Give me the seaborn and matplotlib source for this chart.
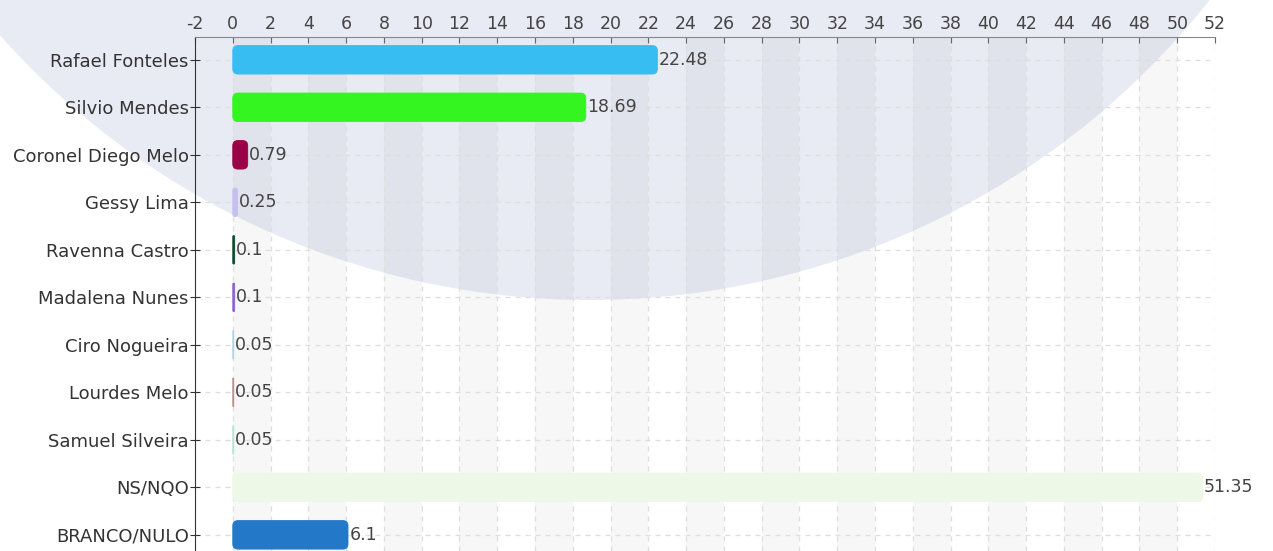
import matplotlib
matplotlib.use('Agg')
import matplotlib.pyplot as plt
import seaborn as sns
import pandas as pd
from matplotlib.patches import FancyBboxPatch, Ellipse

# data
names = ['Rafael Fonteles', 'Silvio Mendes', 'Coronel Diego Melo', 'Gessy Lima',
         'Ravenna Castro', 'Madalena Nunes', 'Ciro Nogueira', 'Lourdes Melo',
         'Samuel Silveira', 'NS/NQO', 'BRANCO/NULO']
values = [22.48, 18.69, 0.79, 0.25, 0.1, 0.1, 0.05, 0.05, 0.05, 51.35, 6.1]
colors = ['#38bdf2', '#35f520', '#990045', '#c6bff0', '#0b4a2c', '#8c62d2',
          '#a8d8e0', '#c08a8a', '#b4e4d4', '#eef8e6', '#2478c8']
xticks = list(range(-2, 53, 2))

df = pd.DataFrame({'name': names, 'value': values})

sns.set_style('white')
plt.rcParams['font.family'] = ['DejaVu Sans']
plt.rcParams['axes.unicode_minus'] = False

fig = plt.figure(figsize=(12.73, 5.51), dpi=100)
fig.patch.set_facecolor('white')

# big pale circle behind the chart
W, H = 1273, 551
r = 790
fig.patches.append(Ellipse((590 / W, 1 + 490 / H), 2 * r / W, 2 * r / H,
                           transform=fig.transFigure, facecolor='#e8ebf4',
                           edgecolor='none', zorder=-5))

ax = fig.add_axes([195 / W, 0.0, (1215 - 195) / W, 1 - 37 / H])
ax.set_facecolor('none')
ax.set_zorder(1)

sns.barplot(data=df, y='name', x='value', hue='name', palette=colors,
            saturation=1, legend=False, orient='h', width=0.6, ax=ax, zorder=3)

ax.set_xlim(-2, 52)
ax.set_ylim(10.34, -0.48)

# alternating column bands
for x0 in range(0, 52, 4):
    ax.axvspan(x0, x0 + 2, color='black', alpha=0.03, lw=0, zorder=0)

bars = []
for cont, v in zip(ax.containers, values):
    ax.bar_label(cont, labels=[str(v)], padding=1,
                 fontsize=12.5, color='#444444', zorder=4)
    bars.extend(list(cont))

# rounded bars
asp = (1 / 47.5) / (1 / 18.89)
for bar in bars:
    x, y = bar.get_x(), bar.get_y()
    w, h = bar.get_width(), bar.get_height()
    rs = min(0.27, w / 2)
    fb = FancyBboxPatch((x, y), w, h,
                        boxstyle=f'round,pad=0,rounding_size={rs}',
                        mutation_aspect=asp, facecolor=bar.get_facecolor(),
                        edgecolor=bar.get_facecolor(), lw=0.6, zorder=3)
    bar.set_visible(False)
    ax.add_patch(fb)

ax.xaxis.tick_top()
ax.set_xticks(xticks)
ax.set_xticklabels([str(t) for t in xticks])
ax.tick_params(axis='x', which='both', top=True, bottom=False, direction='in',
               length=4, color='#666666', labelsize=12.5, labelcolor='#444444', pad=3)
ax.tick_params(axis='y', left=True, direction='inout', length=7,
               color='#333333', labelsize=13, labelcolor='#333333', pad=1)
ax.set_xlabel('')
ax.set_ylabel('')

ax.grid(True, axis='both', linestyle=(0, (4, 4)), color='#dedede', lw=0.9, zorder=1)
ax.set_axisbelow(True)

for s in ['right', 'bottom']:
    ax.spines[s].set_visible(False)
ax.spines['top'].set_color('#888888')
ax.spines['left'].set_color('#333333')

fig.savefig('out.png', dpi=100)
